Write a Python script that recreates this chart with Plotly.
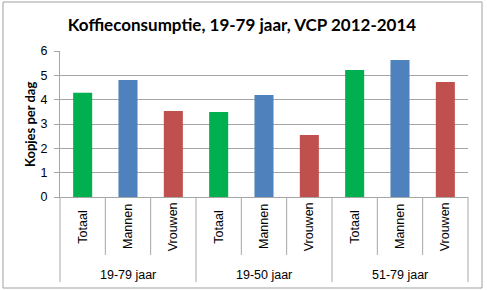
import plotly.graph_objects as go

groups = ["19-79 jaar", "19-50 jaar", "51-79 jaar"]
subcats = ["Totaal", "Mannen", "Vrouwen"]
totaal = [4.28, 3.49, 5.22]
mannen = [4.81, 4.19, 5.63]
vrouwen = [3.53, 2.55, 4.73]
colors = ["#00B050", "#4F81BD", "#C0504D"]
title = "Koffieconsumptie, 19-79 jaar, VCP 2012-2014"
ytitle = "Kopjes per dag"

W, H = 487, 290
L, R, T, B = 60, 19, 51, 93
pw, ph = W - L - R, H - T - B

def px_x(px):
    return (px - L) / pw

def px_y(py):
    return (H - B - py) / ph

series = [totaal, mannen, vrouwen]
xs, ys, cs = [], [], []
for gi, g in enumerate(groups):
    for si, s in enumerate(subcats):
        xs.append(gi * 3 + si)
        ys.append(series[si][gi])
        cs.append(colors[si])

fig = go.Figure(go.Bar(x=xs, y=ys, marker=dict(color=cs, line=dict(width=0)), width=0.42))

grid = "#A6A6A6"
shapes = []
n = len(xs)
for k in range(n + 1):
    shapes.append(dict(type="line", xref="paper", yref="paper", x0=k / n, x1=k / n,
                       y0=0, y1=px_y(282) if k % 3 == 0 else px_y(255),
                       line=dict(color=grid, width=1)))
shapes.append(dict(type="rect", xref="paper", yref="paper", x0=px_x(3), x1=px_x(482),
                   y0=px_y(288), y1=px_y(2), line=dict(color="#A0A0A0", width=1)))

annotations = []
lab_font = dict(family="Liberation Sans, Arial", size=12.5, color="#000")
for gi, g in enumerate(groups):
    for si, s in enumerate(subcats):
        annotations.append(dict(x=gi * 3 + si, xref="x", y=px_y(227), yref="paper", text=s,
                                textangle=-90, showarrow=False, font=lab_font,
                                xanchor="center", yanchor="middle"))
    annotations.append(dict(x=gi * 3 + 1, xref="x", y=px_y(275), yref="paper", text=g,
                            showarrow=False, font=lab_font, xanchor="center", yanchor="middle"))
annotations.append(dict(x=px_x(30), xref="paper", y=px_y(125), yref="paper", text="<b>" + ytitle + "</b>",
                        textangle=-90, showarrow=False,
                        font=dict(family="Lato", size=13, color="#000"),
                        xanchor="center", yanchor="middle"))

fig.update_layout(
    width=W, height=H,
    margin=dict(l=L, r=R, t=T, b=B),
    paper_bgcolor="white", plot_bgcolor="white",
    showlegend=False,
    title=dict(text="<b>" + title + "</b>", x=242 / W, xanchor="center", xref="container",
               y=1 - 25 / H, yanchor="middle", yref="container",
               font=dict(family="Lato", size=17, color="#000")),
    xaxis=dict(range=[-0.5, n - 0.5], showticklabels=False, showgrid=False, zeroline=False,
               showline=True, linecolor=grid, linewidth=1, ticks=""),
    yaxis=dict(range=[0, 6], dtick=1, showgrid=True, gridcolor=grid, gridwidth=1,
               zeroline=False, showline=True, linecolor=grid, linewidth=1,
               ticks="outside", ticklen=5, tickcolor=grid, ticklabelstandoff=4,
               tickfont=dict(family="Liberation Sans, Arial", size=12.5, color="#000")),
    shapes=shapes,
    annotations=annotations,
)

fig.write_html("out.html")
